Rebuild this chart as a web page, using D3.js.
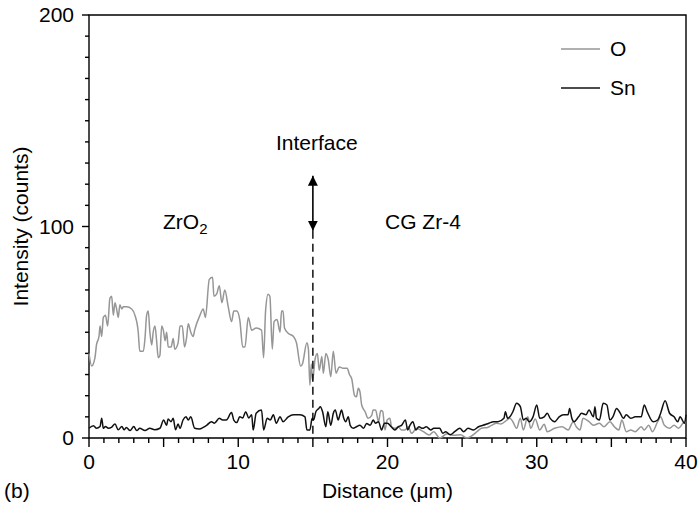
<!DOCTYPE html>
<html>
<head>
<meta charset="utf-8">
<script src="https://cdn.jsdelivr.net/npm/d3@7"></script>
<style>
  body { margin: 0; background: #fff; }
  svg { font-family: "Liberation Sans", Arial, sans-serif; }
</style>
</head>
<body>
<svg id="chart"></svg>
<script>
// line scan data, [distance µm, counts]
const oxygen = [
  [0,40],[0.18,34],[0.4,38],[0.5,44],[0.67,48],[0.74,53],[0.85,48],[0.96,57],[1.1,58],[1.25,53],
  [1.4,66],[1.52,67],[1.63,58],[1.74,64],[1.85,61],[1.96,57],[2.07,63],[2.2,61],[2.3,62],[2.52,62],
  [2.86,61],[3.08,58],[3.3,50],[3.4,41],[3.64,41],[3.75,47],[3.86,58],[3.97,60],[4.08,50],[4.2,44],
  [4.3,50],[4.42,53],[4.53,46],[4.64,38],[4.75,39],[4.87,53],[4.98,51],[5.1,46],[5.2,50],[5.31,43],
  [5.5,43],[5.64,47],[5.75,42],[5.97,45],[6.1,53],[6.25,53],[6.4,43],[6.53,47],[6.65,54],[6.82,50],
  [6.98,48],[7.08,51],[7.43,58],[7.65,61],[7.8,57],[8.06,75],[8.28,76],[8.37,67],[8.55,68],[8.73,72],
  [8.9,64],[9.1,70],[9.33,62],[9.55,55],[9.7,60],[9.9,60],[10.1,56],[10.3,43],[10.45,43],[10.67,57],
  [10.9,51],[11.2,52],[11.56,51],[11.7,38],[11.83,60],[12.0,68],[12.12,67],[12.28,42],[12.4,55],[12.6,56],
  [12.8,50],[12.9,60],[13.0,60],[13.1,52],[13.35,49.5],[13.7,48],[13.9,45],[14.18,34],[14.3,35],[14.6,45],
  [14.7,42],[14.8,25],[14.9,35],[14.98,27],[15.14,37],[15.3,40],[15.43,32],[15.6,38.5],[15.7,30.6],[15.87,40],
  [16.03,37],[16.2,29],[16.37,41],[16.55,30.6],[16.77,33.6],[17.03,33],[17.3,33],[17.45,30],[17.6,28],[17.8,20],
  [17.92,19.5],[18.04,23.5],[18.15,22],[18.27,15.6],[18.5,12.4],[18.7,9.3],[18.94,10.7],[19.04,13.2],[19.2,13.2],[19.4,7.7],
  [19.55,13],[19.68,12.5],[19.83,3.8],[19.98,8.5],[20.16,9.3],[20.27,5.3],[20.5,4.6],[20.72,5.3],[20.94,3.8],[21.16,3.8],
  [21.4,5.3],[21.6,2.2],[21.75,3],[21.9,4.6],[22.4,3],[22.8,1.4],[23.1,3],[23.5,0],[24,2],[24.4,1.3],
  [24.9,1.5],[25.3,0],[25.7,1.3],[26,3],[26.3,4.6],[26.7,5],[27,6.1],[27.3,7],[27.6,6.6],[28,8.5],
  [28.2,9.3],[28.4,7.7],[28.65,4.6],[28.9,9.3],[29.1,3.8],[29.4,10],[29.6,4.6],[29.9,9],[30.2,3.8],[30.5,6.5],
  [30.7,3],[31.2,4.6],[31.7,5.3],[32.1,3.8],[32.45,7.7],[32.65,5.3],[32.9,3.8],[33.1,9.3],[33.5,7.7],[33.8,6],
  [34.2,7],[34.5,5.3],[34.9,7.7],[35.2,5.3],[35.5,3.8],[35.7,8.5],[36,3],[36.3,3.8],[36.6,3],[37,5.3],
  [37.2,3.8],[37.5,6],[37.75,3],[38.1,7.7],[38.3,10],[38.55,6],[38.9,4.6],[39.2,6],[39.5,4.6],[39.8,7],[40,7.7]
];

const tin = [
  [0,4.6],[0.3,5.8],[0.5,4.6],[0.74,5.4],[0.85,9.3],[0.96,4.6],[1.1,5.4],[1.3,4.6],[1.5,5],[1.74,6.6],
  [1.96,3.9],[2.2,5.4],[2.35,3.9],[2.5,5],[2.75,3.5],[3,5.4],[3.2,3.5],[3.4,4.6],[3.75,3.5],[4.08,4.6],
  [4.4,3.9],[4.75,4.6],[5,8.5],[5.2,6],[5.3,9],[5.5,7.7],[5.64,9.3],[5.8,3.9],[5.97,6.6],[6.1,4.6],
  [6.3,8.5],[6.5,10],[6.65,8.5],[6.82,10],[7.08,4.6],[7.4,4.3],[7.65,5],[7.9,6.1],[8.2,7.7],[8.4,7],
  [8.73,9.3],[8.95,8.5],[9.2,8.5],[9.55,12],[9.7,8.5],[9.9,7.3],[10.1,10],[10.3,9.5],[10.5,12.4],[10.7,9.5],
  [10.9,11],[11.0,3.8],[11.2,11.7],[11.56,13.2],[11.7,3.8],[11.94,9.3],[12.15,8.5],[12.35,11],[12.55,7],[12.8,10],
  [13.0,7.7],[13.35,10],[13.7,11],[14.13,11],[14.47,10],[14.6,3.8],[14.8,3.8],[14.95,9.3],[15.05,8.5],[15.2,12.4],
  [15.4,14],[15.5,14.8],[15.65,12.4],[15.87,5.3],[16,12.4],[16.2,6],[16.37,11.7],[16.5,13.2],[16.7,8.5],[16.8,10.7],
  [16.92,13.2],[17.07,9.3],[17.2,7.7],[17.37,10],[17.5,6],[17.7,4.6],[17.92,5.3],[18.15,6],[18.4,4.6],[18.6,6.9],
  [18.84,6],[19.04,8.5],[19.2,7],[19.4,7.7],[19.6,3.8],[19.8,7],[20,7],[20.25,5.3],[20.5,3.8],[20.72,5.3],
  [20.94,6],[21.2,8.5],[21.35,3.8],[21.5,6],[21.7,7.7],[21.9,3.8],[22.1,5.3],[22.35,4.6],[22.6,5.3],[22.9,3.8],
  [23.1,4.6],[23.5,4.6],[23.7,2.2],[23.9,3],[24.2,1.5],[24.5,3],[24.85,4.6],[25.1,3],[25.4,4.6],[25.75,3.8],
  [26.1,5.3],[26.4,6],[26.8,7],[27.1,7.7],[27.4,7.7],[27.8,9.3],[27.9,12.4],[28.05,9.3],[28.2,10],[28.4,12.4],
  [28.65,16.4],[28.9,14.8],[29.1,8.5],[29.3,9.3],[29.5,7.7],[29.75,10],[30,15.6],[30.2,9.3],[30.5,10],[30.7,11.7],
  [30.9,9.3],[31.2,7.7],[31.5,10],[31.8,11],[32.1,11],[32.2,14],[32.35,9.3],[32.5,7.7],[32.8,10],[33,11.7],
  [33.3,11],[33.5,13.2],[33.8,10],[33.9,14.8],[34.0,9.3],[34.2,8.5],[34.45,16.4],[34.7,15.6],[34.9,8.5],[35.1,10],
  [35.35,14],[35.6,11.7],[35.8,9.3],[36.0,11],[36.3,9.3],[36.6,10],[37,10],[37.2,15.6],[37.4,12.4],[37.8,7.7],
  [38.1,8.5],[38.3,11.7],[38.6,17.6],[38.9,11.7],[39.2,10],[39.45,7.7],[39.6,10],[39.9,7],[40,11]
];

const series = [
  {name: "O", color: "#969696", values: oxygen},
  {name: "Sn", color: "#111", values: tin}
];

const xTicks = [0, 10, 20, 30, 40];
const yTicks = [0, 100, 200];
const interfaceAt = 15;

const width = 699, height = 506;
const margin = {top: 15, right: 13, bottom: 68, left: 89};
const fs = 21;

const svg = d3.select("#chart")
  .attr("width", width)
  .attr("height", height);

const x = d3.scaleLinear().domain([0, 40]).range([margin.left, width - margin.right]);
const y = d3.scaleLinear().domain([0, 200]).range([height - margin.bottom, margin.top]);

// minor ticks
const xMinor = d3.range(0, 41, 1).filter(d => d % 5 !== 0);
const xMid = d3.range(0, 41, 5);
const yMinor = d3.range(0, 201, 10).filter(d => d % 100 !== 0);

const ax = svg.append("g").attr("stroke", "#000").attr("stroke-width", 1.4);

// frame
ax.append("path")
  .attr("fill", "none")
  .attr("d", `M${x(0)},${y(200)}H${x(40)}V${y(0)}H${x(0)}Z`);

ax.selectAll(".xm").data(xMinor).join("line")
  .attr("x1", x).attr("x2", x)
  .attr("y1", y(0)).attr("y2", y(0) + 5);
ax.selectAll(".xM").data(xMid).join("line")
  .attr("x1", x).attr("x2", x)
  .attr("y1", y(0)).attr("y2", y(0) + 9);
ax.selectAll(".ym").data(yMinor).join("line")
  .attr("x1", x(0) - 4).attr("x2", x(0))
  .attr("y1", y).attr("y2", y);
ax.selectAll(".yM").data(yTicks).join("line")
  .attr("x1", x(0) - 7).attr("x2", x(0))
  .attr("y1", y).attr("y2", y);

// tick labels
svg.append("g")
  .attr("font-size", fs)
  .attr("text-anchor", "middle")
  .selectAll("text").data(xTicks).join("text")
  .attr("x", x)
  .attr("y", y(0) + 24)
  .attr("dy", "0.35em")
  .text(d => d);

svg.append("g")
  .attr("font-size", fs)
  .attr("text-anchor", "end")
  .selectAll("text").data(yTicks).join("text")
  .attr("x", x(0) - 15)
  .attr("y", y)
  .attr("dy", "0.35em")
  .text(d => d);

// axis titles
svg.append("text")
  .attr("font-size", fs)
  .attr("text-anchor", "middle")
  .attr("x", (x(0) + x(40)) / 2)
  .attr("y", 491)
  .attr("dy", "0.35em")
  .text("Distance (\u03bcm)");

svg.append("text")
  .attr("font-size", fs)
  .attr("text-anchor", "middle")
  .attr("transform", `translate(21,${y(100)}) rotate(-90)`)
  .attr("dy", "0.35em")
  .text("Intensity (counts)");

svg.append("text")
  .attr("font-size", fs)
  .attr("x", 4)
  .attr("y", 491)
  .attr("dy", "0.35em")
  .text("(b)");

// curves
const line = d3.line()
  .x(d => x(d[0]))
  .y(d => y(d[1]))
  .curve(d3.curveMonotoneX);

svg.append("g")
  .selectAll("path").data(series).join("path")
  .attr("fill", "none")
  .attr("stroke", d => d.color)
  .attr("stroke-width", 1.5)
  .attr("d", d => line(d.values));

// interface marker
svg.append("line")
  .attr("x1", x(interfaceAt)).attr("x2", x(interfaceAt))
  .attr("y1", y(98)).attr("y2", y(0))
  .attr("stroke", "#000")
  .attr("stroke-width", 1.4)
  .attr("stroke-dasharray", "8,5");

const defs = svg.append("defs");
defs.append("marker")
  .attr("id", "head")
  .attr("viewBox", "0 0 10 10")
  .attr("refX", 10).attr("refY", 5)
  .attr("markerWidth", 10).attr("markerHeight", 11)
  .attr("markerUnits", "userSpaceOnUse")
  .attr("orient", "auto-start-reverse")
  .append("path")
  .attr("d", "M0,0L10,5L0,10Z")
  .attr("fill", "#000");

svg.append("line")
  .attr("x1", x(interfaceAt)).attr("x2", x(interfaceAt))
  .attr("y1", y(124)).attr("y2", y(98))
  .attr("stroke", "#000")
  .attr("stroke-width", 1.6)
  .attr("marker-start", "url(#head)")
  .attr("marker-end", "url(#head)");

svg.append("text")
  .attr("font-size", fs)
  .attr("text-anchor", "middle")
  .attr("x", x(interfaceAt) + 4)
  .attr("y", 143)
  .attr("dy", "0.35em")
  .text("Interface");

const zr = svg.append("text")
  .attr("font-size", fs)
  .attr("x", 163)
  .attr("y", 222)
  .attr("dy", "0.35em");
zr.append("tspan").text("ZrO");
zr.append("tspan").attr("font-size", 15).attr("dy", 5).text("2");

svg.append("text")
  .attr("font-size", fs)
  .attr("x", 385)
  .attr("y", 222)
  .attr("dy", "0.35em")
  .text("CG Zr-4");

// legend
const legend = svg.append("g")
  .selectAll("g").data(series).join("g")
  .attr("transform", (d, i) => `translate(561,${49 + i * 39})`);
legend.append("line")
  .attr("x2", 39)
  .attr("stroke", d => d.color)
  .attr("stroke-width", 1.6);
legend.append("text")
  .attr("font-size", fs)
  .attr("x", 49)
  .attr("dy", "0.35em")
  .text(d => d.name);
</script>
</body>
</html>
